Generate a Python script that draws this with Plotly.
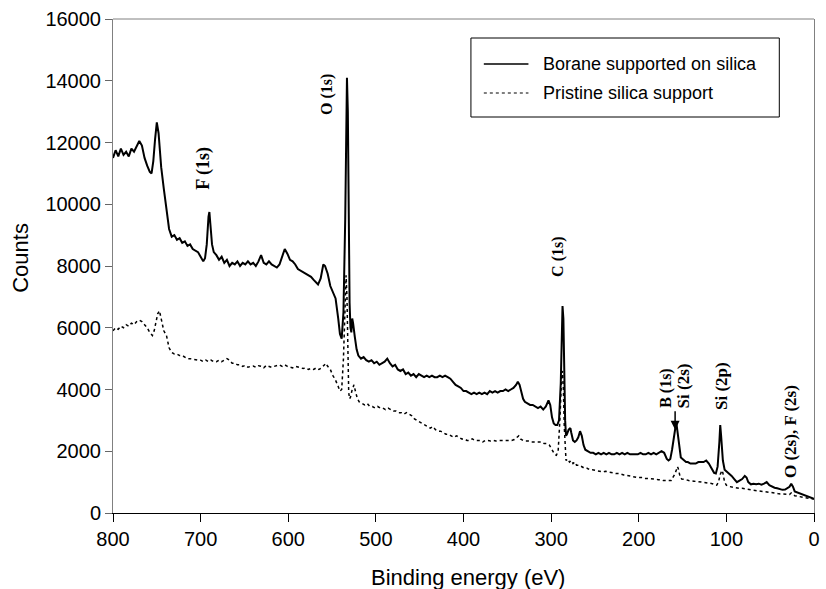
import plotly.graph_objects as go

# ---------------- data ----------------
borane_ev = [800,797,794,791,788,785,782,779,776,773,770,767,764,761,758,756,754,752,750,748,
             745,742,739,736,733,730,727,724,721,718,715,712,709,706,703,700,697,695,693,691,
             690,689,687,685,682,679,676,673,670,667,664,661,658,655,652,649,646,643,640,637,
             634,631,628,625,622,619,616,613,610,607,604,601,598,595,592,589,586,583,580,577,
             574,571,568,566,563,560,558,555,552,549,546,543,541,539,537,535,534,533,532,531,
             530,529,528,527,526,524,522,520,517,514,511,508,505,502,499,496,493,490,487,484,
             481,478,475,472,469,466,463,460,457,454,451,448,445,442,439,436,433,430,427,424,
             421,418,415,412,409,406,403,400,397,394,391,388,385,382,379,376,373,370,367,364,
             361,358,355,352,349,346,343,340,338,336,334,332,330,327,324,321,318,315,312,309,
             306,303,301,299,297,295,293,291,289,288,287,286,285,284,283,282,280,278,277,275,
             273,271,269,267,265,263,261,258,255,252,249,246,243,240,237,234,231,228,225,222,
             219,216,213,210,207,204,201,198,195,192,189,186,183,180,177,174,171,168,166,164,
             162,160,158,157,156,154,152,150,148,146,144,141,138,135,132,129,126,123,120,117,
             114,112,110,108,107,106,104,102,100,97,94,91,88,85,82,79,77,75,72,69,
             66,63,60,57,54,51,48,45,42,39,36,33,30,28,26,24,22,20,17,14,
             11,8,5,2,0]
borane_counts = [11500,11750,11550,11800,11600,11700,11550,11800,11700,11900,12050,11900,11500,11250,11050,11000,11400,12100,12650,12300,
                 11200,10500,9900,9200,8950,9000,8850,8900,8750,8800,8650,8700,8550,8500,8450,8300,8150,8250,8700,9600,
                 9750,9400,8700,8450,8350,8200,8300,8100,8200,8000,8100,8050,8150,8000,8100,8050,8150,8050,8100,8000,
                 8150,8350,8100,8050,8150,8050,8000,7950,8050,8300,8550,8400,8200,8150,8050,7900,7850,7800,7750,7700,
                 7650,7550,7450,7400,7600,8050,8000,7750,7350,7150,6950,6300,5800,5650,6500,9500,12500,14100,13000,9000,
                 6800,6000,5850,6300,6150,5700,5300,5100,5000,5050,4950,4900,4950,4850,4900,4800,4850,4900,5000,4850,
                 4750,4800,4650,4600,4650,4500,4550,4450,4500,4400,4500,4450,4400,4450,4400,4450,4400,4400,4450,4400,
                 4450,4400,4350,4250,4150,4100,4050,3950,3950,3900,3850,3900,3850,3900,3850,3900,3850,3950,3900,3950,
                 3900,3950,3950,4000,3950,4000,4050,4150,4250,4150,3950,3700,3600,3550,3500,3500,3450,3400,3450,3350,
                 3450,3650,3500,3100,2900,2850,2850,3000,4200,5600,6700,6300,4500,3000,2500,2550,2700,2750,2600,2350,
                 2300,2350,2450,2650,2500,2200,2050,2000,1950,1950,1900,1950,1900,1950,1900,1950,1900,1900,1950,1900,
                 1950,1900,1950,1900,1900,1900,1900,1950,1900,1900,1950,1900,1950,1900,1950,2000,1950,1750,1700,1750,
                 2050,2500,2800,2900,2700,2200,1800,1750,1700,1650,1650,1600,1600,1600,1650,1650,1650,1700,1600,1450,
                 1300,1280,1500,2300,2850,2500,1700,1400,1350,1300,1200,1100,1000,1050,1100,1200,1150,1000,930,950,
                 930,950,920,950,1000,900,850,820,800,780,750,760,800,850,950,850,700,680,650,620,
                 580,560,520,480,460]

pristine_ev = [800,797,794,791,788,785,782,779,776,773,770,767,764,761,758,755,753,751,749,747,
               745,742,739,736,733,730,727,724,721,718,715,712,709,706,703,700,697,694,691,688,
               685,682,679,676,673,670,667,664,661,658,655,652,649,646,643,640,637,634,631,628,
               625,622,619,616,613,610,607,604,601,598,595,592,589,586,583,580,577,574,571,568,
               565,562,559,557,555,552,549,546,543,541,539,537,535,534,533,532,531,530,529,527,
               525,523,521,519,516,513,510,507,504,501,498,495,492,489,486,483,480,477,474,471,
               468,465,462,459,456,453,450,447,444,441,438,435,432,429,426,423,420,417,414,411,
               408,405,402,399,396,393,390,387,384,381,378,375,372,369,366,363,360,357,354,351,
               348,345,342,339,337,335,332,329,326,323,320,317,314,311,308,305,302,299,296,294,
               292,290,289,288,287,286,285,284,283,281,279,277,275,273,271,268,265,262,259,256,
               253,250,247,244,241,238,235,232,229,226,223,220,217,214,211,208,205,202,199,196,
               193,190,187,184,181,178,175,172,169,166,163,161,159,157,156,155,153,151,149,146,
               143,140,137,134,131,128,125,122,119,116,113,111,109,107,105,104,102,100,97,94,
               91,88,85,82,79,76,73,70,67,64,61,58,55,52,49,46,43,40,37,34,
               31,28,26,24,22,20,17,14,11,8,5,2,0]
pristine_counts = [5900,6000,5950,6050,6000,6100,6050,6150,6100,6200,6250,6200,6100,6000,5850,5750,5900,6200,6450,6550,
                   6300,5900,5750,5350,5200,5150,5150,5100,5100,5050,5000,5000,4980,4950,4950,4950,4900,4950,4900,4950,
                   4900,4900,4950,4900,4950,5000,4950,4850,4850,4800,4800,4750,4780,4720,4750,4760,4720,4770,4750,4700,
                   4780,4750,4720,4750,4780,4800,4750,4800,4750,4720,4700,4750,4720,4700,4680,4700,4650,4680,4650,4700,
                   4650,4700,4800,4850,4750,4650,4450,4300,4100,3950,4000,5000,6800,7700,7000,5200,3900,3700,3750,4000,
                   4150,3900,3700,3600,3550,3500,3550,3450,3450,3400,3450,3400,3400,3350,3400,3350,3300,3300,3250,3250,
                   3200,3250,3200,3150,3050,3000,2950,2900,2850,2800,2750,2800,2700,2650,2650,2600,2550,2550,2500,2450,
                   2500,2450,2400,2400,2350,2350,2400,2350,2350,2350,2300,2350,2350,2330,2350,2330,2350,2350,2330,2350,
                   2350,2350,2380,2450,2500,2400,2350,2330,2330,2300,2300,2300,2280,2300,2250,2250,2200,2050,1900,1870,
                   2000,3000,3800,4400,4600,4000,2800,1850,1700,1750,1650,1700,1600,1650,1550,1550,1500,1450,1450,1400,
                   1400,1380,1350,1350,1330,1350,1330,1300,1300,1280,1280,1250,1230,1220,1200,1200,1180,1150,1150,1150,
                   1120,1120,1100,1100,1100,1080,1080,1050,1050,1060,1050,1150,1250,1400,1500,1450,1200,1100,1100,1080,
                   1050,1050,1030,1020,1000,1000,990,980,960,950,920,900,1000,1250,1380,1300,1000,900,860,840,
                   830,820,800,800,780,760,750,740,730,720,720,700,700,680,670,650,640,620,610,600,
                   590,600,650,600,560,550,530,510,490,480,470,460,450]

series_names = ["Borane supported on silica", "Pristine silica support"]

x_ticks = [0, 100, 200, 300, 400, 500, 600, 700, 800]
y_ticks = [0, 2000, 4000, 6000, 8000, 10000, 12000, 14000, 16000]

peak_labels = ["O (1s)", "F (1s)", "C (1s)", "B (1s)", "Si (2s)", "Si (2p)", "O (2s), F (2s)"]
peak_label_ev = [556.5, 696.0, 292.0, 169.0, 149.5, 105.4, 26.0]
peak_label_counts = [13550, 11150, 8300, 4050, 4100, 4100, 2630]
peak_label_sizes = [16, 18, 16, 16, 17, 17, 17]

# ---------------- figure ----------------
W, H = 826, 589
ML, MR, MT, MB = 113, 6, 19, 76
PW, PH = W - ML - MR, H - MT - MB


def px_x(px):
    return (px - ML) / PW


def px_y(py):
    return (H - MB - py) / PH


fig = go.Figure()
fig.add_trace(go.Scatter(x=borane_ev, y=borane_counts, mode="lines", name=series_names[0],
                         line=dict(color="black", width=2), showlegend=False))
fig.add_trace(go.Scatter(x=pristine_ev, y=pristine_counts, mode="lines", name=series_names[1],
                         line=dict(color="black", width=1.5, dash="dot"), showlegend=False))

sans = "Liberation Sans, Arial, Helvetica, sans-serif"
serif = "Liberation Serif, Times New Roman, serif"

fig.update_layout(
    width=W, height=H,
    margin=dict(l=ML, r=MR, t=MT, b=MB),
    paper_bgcolor="white", plot_bgcolor="white",
    font=dict(family=sans, color="black"),
    xaxis=dict(range=[800, 0], tickvals=x_ticks, ticks="outside", ticklen=8, tickcolor="black",
               showline=True, linecolor="black", linewidth=1, showgrid=False, zeroline=False,
               tickfont=dict(size=20, family=sans), tickformat="d"),
    yaxis=dict(range=[0, 16000], tickvals=y_ticks, ticks="outside", ticklen=7, tickcolor="#666666",
               showline=True, linecolor="#808080", linewidth=1, mirror=True, showgrid=False,
               zeroline=False, tickfont=dict(size=20, family=sans), tickformat="d"),
)

# top frame line (grey)
fig.add_shape(type="line", xref="paper", yref="paper", x0=0, x1=1, y0=1, y1=1,
              line=dict(color="#808080", width=1))

# axis titles
fig.add_annotation(text="Binding energy (eV)", xref="paper", yref="paper",
                   x=px_x(471), y=px_y(577), showarrow=False,
                   font=dict(size=22, family=sans), xanchor="center", yanchor="middle")
fig.add_annotation(text="Counts", xref="paper", yref="paper", textangle=-90,
                   x=px_x(19), y=px_y(258), showarrow=False,
                   font=dict(size=22, family=sans), xanchor="center", yanchor="middle")

# legend (box, samples, texts)
fig.add_shape(type="rect", xref="paper", yref="paper",
              x0=px_x(474), x1=px_x(785), y0=px_y(117), y1=px_y(38),
              line=dict(color="black", width=1), fillcolor="white", layer="above")
legend_rows = [64, 93]
legend_styles = [dict(color="black", width=1.5), dict(color="black", width=1.2, dash="dot")]
for name, row, sty in zip(series_names, legend_rows, legend_styles):
    fig.add_shape(type="line", xref="paper", yref="paper",
                  x0=px_x(487), x1=px_x(532), y0=px_y(row), y1=px_y(row), line=sty, layer="above")
    fig.add_annotation(text=name, xref="paper", yref="paper", x=px_x(545), y=px_y(row),
                       xanchor="left", yanchor="middle", showarrow=False,
                       font=dict(size=18, family=sans))

# peak labels
for lab, ex, cy, fs in zip(peak_labels, peak_label_ev, peak_label_counts, peak_label_sizes):
    fig.add_annotation(text="<b>%s</b>" % lab, x=ex, y=cy, xref="x", yref="y", textangle=-90,
                       showarrow=False, font=dict(size=fs, family=serif),
                       xanchor="center", yanchor="middle")

# arrow to the B (1s) peak
fig.add_annotation(text="", x=158.5, y=2700, xref="x", yref="y", ax=0, ay=-20,
                   showarrow=True, arrowhead=2, arrowsize=1.2, arrowwidth=1.5, arrowcolor="black")

fig.write_html("out.html")
